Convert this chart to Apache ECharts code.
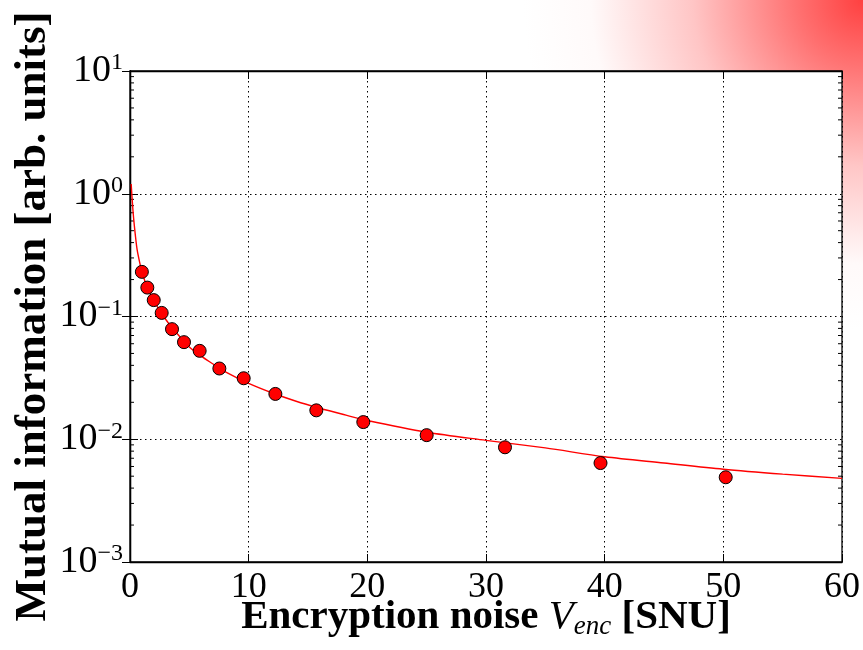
<!DOCTYPE html>
<html>
<head>
<meta charset="utf-8">
<script src="https://cdn.jsdelivr.net/npm/echarts@6/dist/echarts.min.js"></script>
<style>
  html, body { margin: 0; padding: 0; background: #fff; }
  #chart {
    width: 863px; height: 650px;
    background: radial-gradient(ellipse 340px 330px at 100% 0%, rgba(255,64,64,1) 0%, rgba(255,90,90,0.85) 20%, rgba(255,140,140,0.5) 50%, rgba(255,220,220,0.15) 80%, rgba(255,255,255,0) 100%), #fff;
  }
</style>
</head>
<body>
<div id="chart"></div>
<script>
// measured points (red dots)
var noiseX = [1.0, 1.46, 2.0, 2.67, 3.54, 4.55, 5.87, 7.53, 9.58, 12.25, 15.7, 19.66, 25.0, 31.6, 39.65, 50.2]
var infoY = [0.231, 0.172, 0.136, 0.107, 0.0789, 0.0618, 0.0525, 0.0377, 0.0314, 0.0234, 0.0172, 0.0138, 0.0108, 0.0086, 0.0064, 0.0049]

// theory curve
var curveX = [0.1, 0.2, 0.3, 0.45, 0.6, 0.8, 1.0, 1.25, 1.5, 2.0, 2.5, 3.0, 3.5, 4.0, 5.0, 6.0, 7.0, 8.0, 10, 12, 14, 16, 18, 20, 25, 30, 35, 40, 45, 50, 55, 60]
var curveY = [1.2, 0.85, 0.64, 0.46, 0.35, 0.28, 0.232, 0.195, 0.17, 0.135, 0.112, 0.095, 0.082, 0.072, 0.0565, 0.0475, 0.041, 0.0355, 0.0285, 0.0238, 0.0204, 0.0179, 0.0159, 0.0142, 0.0114, 0.0098, 0.0085, 0.0072, 0.0064, 0.0057, 0.0052, 0.0048]

// log minor ticks 2..9 per decade
var decades = [0.001, 0.01, 0.1, 1]
var minorSteps = [2, 3, 4, 5, 6, 7, 8, 9]

var FONT = '"Liberation Serif", "DejaVu Serif", serif'

var minorTicks = []
decades.forEach(function (d) {
  minorSteps.forEach(function (k) { minorTicks.push([0, k * d]) })
})

function expLabel (v) {
  var e = Math.round(Math.log10(v))
  var s = e < 0 ? '\u2212' + (-e) : '' + e
  return '{b|10}{s|' + s + '}'
}

var chart = echarts.init(document.getElementById('chart'))

var option = {
  animation: false,
  grid: {
    left: 130, right: 21, top: 71, bottom: 88,
    outerBoundsMode: 'none',
    containLabel: false,
    show: true,
    backgroundColor: '#fff',
    borderColor: '#000',
    borderWidth: 1.3
  },
  xAxis: [
    {
      type: 'value', min: 0, max: 60, interval: 10,
      name: '{b|Encryption noise }{i|V}{sub|enc}{b| [SNU]}',
      nameLocation: 'middle',
      nameGap: 32,
      nameMoveOverlap: false,
      nameTextStyle: {
        rich: {
          b: { fontFamily: FONT, fontWeight: 'bold', fontSize: 41, color: '#000', lineHeight: 46 },
          i: { fontFamily: FONT, fontStyle: 'italic', fontSize: 41, color: '#000', lineHeight: 46 },
          sub: { fontFamily: FONT, fontStyle: 'italic', fontSize: 27, color: '#000', verticalAlign: 'bottom', lineHeight: 26 }
        }
      },
      axisLine: { lineStyle: { color: '#000', width: 1.3 } },
      axisTick: { inside: true, length: 8, lineStyle: { color: '#000' } },
      axisLabel: { fontFamily: FONT, fontSize: 36, color: '#000', margin: 8 },
      splitLine: { show: true, lineStyle: { color: '#000', type: [1.5, 3.5], width: 1 } }
    },
    {
      type: 'value', min: 0, max: 60, interval: 10, position: 'top',
      axisLine: { lineStyle: { color: '#000', width: 1.3 } },
      axisTick: { inside: true, length: 8, lineStyle: { color: '#000' } },
      axisLabel: { show: false },
      splitLine: { show: false }
    }
  ],
  yAxis: [
    {
      type: 'log', logBase: 10, min: 0.001, max: 10,
      name: 'Mutual information [arb. units]',
      nameLocation: 'middle',
      nameGap: 74,
      nameMoveOverlap: false,
      nameTextStyle: { fontFamily: FONT, fontWeight: 'bold', fontSize: 45, color: '#000' },
      axisLine: { lineStyle: { color: '#000', width: 1.3 } },
      axisTick: { inside: true, length: 8, lineStyle: { color: '#000' } },
      axisLabel: {
        margin: 7,
        formatter: expLabel,
        rich: {
          b: { fontFamily: FONT, fontSize: 38, color: '#000', lineHeight: 40 },
          s: { fontFamily: FONT, fontSize: 24, color: '#000', verticalAlign: 'top', lineHeight: 24 }
        }
      },
      splitLine: { show: true, lineStyle: { color: '#000', type: [1.5, 3.5], width: 1 } }
    },
    {
      type: 'log', logBase: 10, min: 0.001, max: 10, position: 'right',
      axisLine: { lineStyle: { color: '#000', width: 1.3 } },
      axisTick: { inside: true, length: 8, lineStyle: { color: '#000' } },
      axisLabel: { show: false },
      splitLine: { show: false }
    }
  ],
  series: [
    {
      // minor ticks on left and right edge
      type: 'custom',
      silent: true,
      data: minorTicks,
      renderItem: function (params, api) {
        var p = api.coord([api.value(0), api.value(1)])
        var cs = params.coordSys
        return {
          type: 'group',
          children: [
            { type: 'line', shape: { x1: cs.x, y1: p[1], x2: cs.x + 4, y2: p[1] }, style: { stroke: '#000', lineWidth: 1 } },
            { type: 'line', shape: { x1: cs.x + cs.width - 4, y1: p[1], x2: cs.x + cs.width, y2: p[1] }, style: { stroke: '#000', lineWidth: 1 } }
          ]
        }
      }
    },
    {
      type: 'line',
      data: curveX.map(function (x, i) { return [x, curveY[i]] }),
      smooth: 0.3,
      showSymbol: false,
      lineStyle: { color: '#ff0000', width: 1.4 },
      z: 3
    },
    {
      type: 'scatter',
      data: noiseX.map(function (x, i) { return [x, infoY[i]] }),
      symbolSize: 13,
      itemStyle: { color: '#ff0000', borderColor: '#000', borderWidth: 1, opacity: 1 },
      z: 4
    }
  ]
}

chart.setOption(option)
</script>
</body>
</html>
